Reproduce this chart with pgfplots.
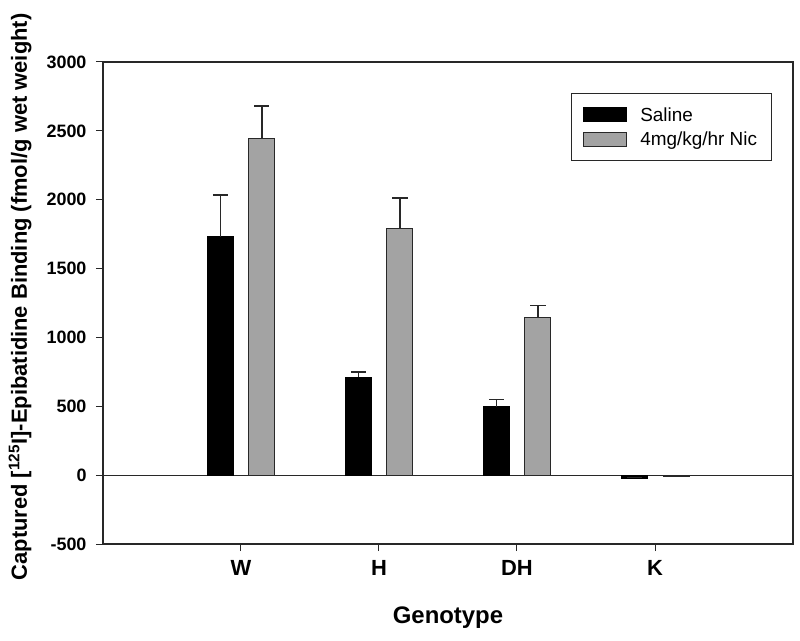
\documentclass[border=0pt]{standalone}
\usepackage{fontspec}
\setmainfont{Liberation Sans}
\usepackage{pgfplots}
\pgfplotsset{compat=1.18}
\definecolor{nicgray}{RGB}{163,163,163}
\definecolor{edge}{RGB}{40,40,40}
\begin{document}
\begin{tikzpicture}
\begin{axis}[
    name=ax,
    scale only axis,
    width=690bp, height=482bp,
    ybar, bar width=26bp,
    xmin=0, xmax=5,
    ymin=-500, ymax=3000,
    xtick={1,2,3,4},
    xticklabels={W,H,DH,K},
    ytick={-500,0,500,1000,1500,2000,2500,3000},
    tick pos=left,
    tick align=outside,
    major tick length=7bp,
    minor tick num=0,
    axis line style={edge, line width=1.2bp},
    tick style={edge, line width=1bp},
    /pgf/number format/assume math mode=true,
    /pgf/number format/1000 sep={},
    yticklabel style={font=\bfseries\fontsize{18}{18}\selectfont, xshift=-6bp},
    xticklabel style={font=\bfseries\fontsize{22}{22}\selectfont, yshift=-6bp},
    xlabel={Genotype},
    xlabel style={font=\bfseries\fontsize{24}{24}\selectfont, at={(rel axis cs:0.5,0)}, anchor=center, yshift=-74bp},
    ylabel={Captured [\textsuperscript{125}I]-Epibatidine Binding (fmol/g wet weight)},
    ylabel style={font=\bfseries\fontsize{22}{22}\selectfont, at={(rel axis cs:0,0.5)}, anchor=center, yshift=83bp, xshift=6bp},
    legend style={at={(rel axis cs:0.678,0.936)}, anchor=north west,
        draw=edge, line width=1bp, font=\fontsize{19}{19}\selectfont,
        inner xsep=12bp, inner ysep=12bp, row sep=5bp,
        cells={anchor=west},
        /tikz/every odd column/.append style={column sep=11bp}},
    legend image code/.code={\draw[#1, line width=1bp] (0bp,-7bp) rectangle (43bp,7bp);},
    error bars/y dir=plus,
    error bars/y explicit,
    error bars/error bar style={edge, line width=1.5bp},
    error bars/error mark options={rotate=90, mark size=7.5bp, line width=1.5bp, edge},
]
\draw[edge, line width=1.2bp] (axis cs:0,0) -- (axis cs:5,0);
\addplot[bar shift=-20.5bp, fill=black, draw=black, line width=1bp]
    coordinates {(1,1732) +- (0,304) (2,710) +- (0,38) (3,495) +- (0,56) (4,-22) +- (0,5)};
\addplot[bar shift=21bp, fill=nicgray, draw=edge, line width=1bp]
    coordinates {(1,2444) +- (0,237) (2,1790) +- (0,224) (3,1145) +- (0,87) (4,-8) +- (0,3)};
\legend{Saline, 4mg/kg/hr Nic}
\end{axis}
\pgfresetboundingbox
\path (ax.south west) ++(-103bp,-97bp) rectangle ++(800bp,641bp);
\end{tikzpicture}
\end{document}
